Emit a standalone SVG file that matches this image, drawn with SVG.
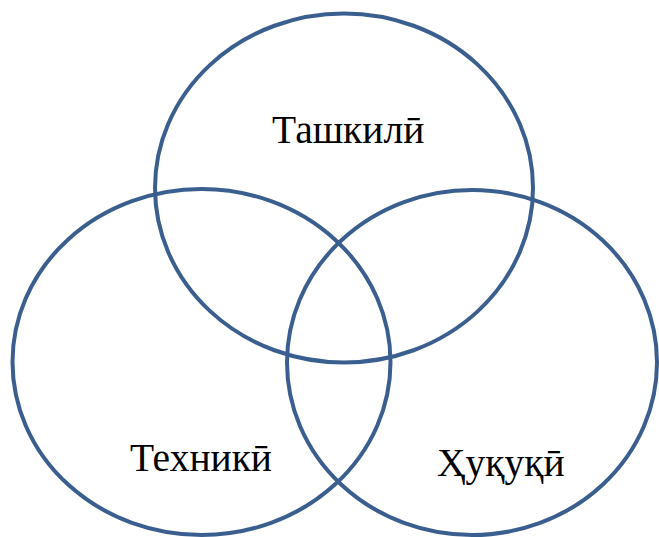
<svg xmlns="http://www.w3.org/2000/svg" width="659" height="537" viewBox="0 0 659 537">
<style>
.c{fill:none;stroke:#3a5f8f;stroke-width:4}
.t{font-family:"Liberation Serif","Times New Roman",serif;font-size:39.5px;fill:#000}
</style>
<rect width="659" height="537" fill="#fff"/>
<g id="top"><ellipse class="c" cx="344" cy="188" rx="189" ry="174.5"/><text class="t" x="272" y="143">Ташкилӣ</text></g>
<g id="left"><ellipse class="c" cx="201.5" cy="362" rx="189" ry="173"/><text class="t" x="130" y="471">Техникӣ</text></g>
<g id="right"><ellipse class="c" cx="472" cy="362.5" rx="185" ry="172.5"/><text class="t" x="437" y="476">Ҳуқуқӣ</text></g>
<g id="connectors"/>
</svg>
